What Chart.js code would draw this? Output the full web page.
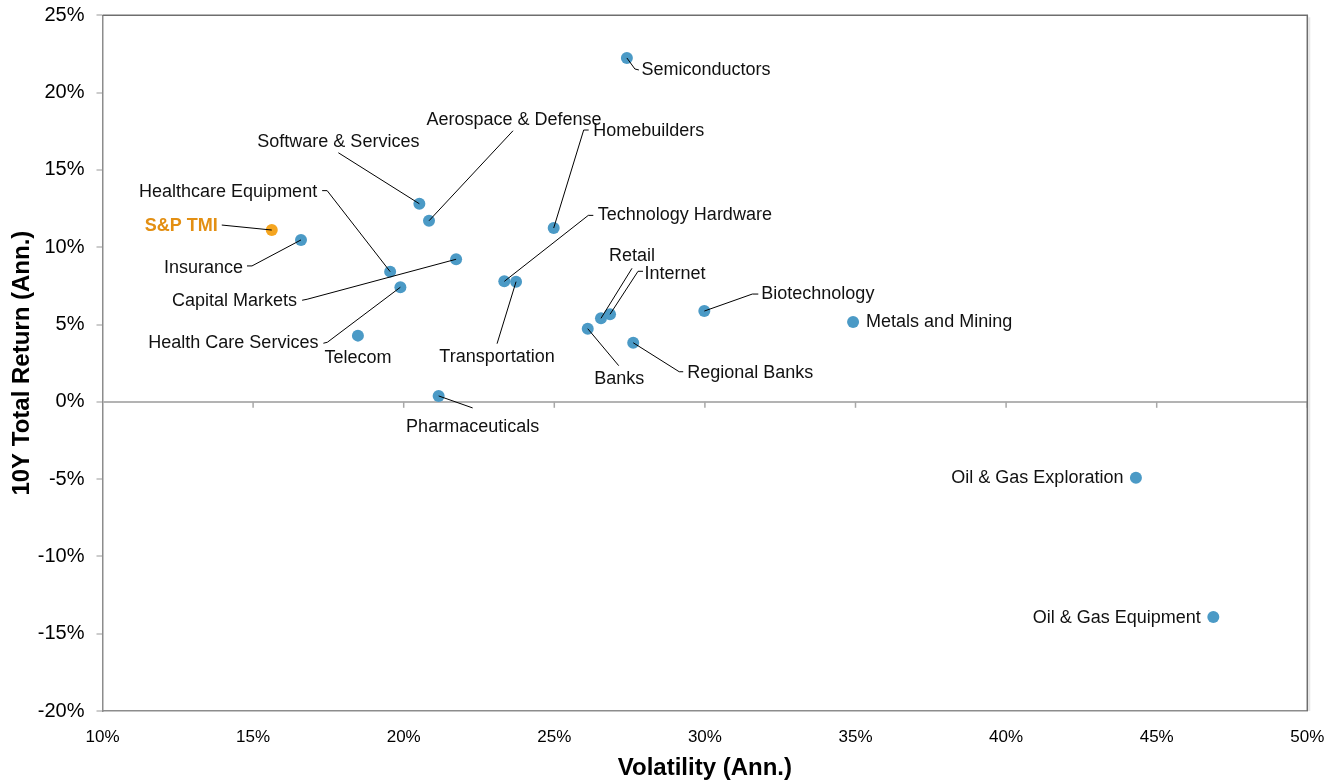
<!DOCTYPE html>
<html>
<head>
<meta charset="utf-8">
<script src="https://cdn.jsdelivr.net/npm/chart.js@4.4.1/dist/chart.umd.min.js"></script>
<style>
  html, body { margin: 0; padding: 0; background: #fff; }
  #wrap { width: 1339px; height: 781px; }
</style>
</head>
<body>
<div id="wrap"><canvas id="riskReturn"></canvas></div>
<script>
// Sector risk / return (values in %)
const sectors = [
  "Semiconductors", "Software & Services", "Aerospace & Defense", "Homebuilders",
  "Technology Hardware", "Healthcare Equipment", "Insurance", "Capital Markets",
  "Health Care Services", "Telecom", "Transportation", "Retail", "Internet",
  "Biotechnology", "Metals and Mining", "Banks", "Regional Banks", "Pharmaceuticals",
  "Oil & Gas Exploration", "Oil & Gas Equipment"
];
const volatility = [
  27.41, 20.52, 20.84, 24.98,
  23.34, 19.55, 16.59, 21.74,
  19.89, 18.48, 23.73, 26.55, 26.85,
  29.98, 34.92, 26.11, 27.62, 21.16,
  44.31, 46.88
];
const totalReturn = [
  22.24, 12.81, 11.71, 11.24,
  7.79, 8.42, 10.47, 9.22,
  7.41, 4.28, 7.77, 5.40, 5.66,
  5.87, 5.16, 4.73, 3.82, 0.38,
  -4.91, -13.92
];
const benchmark = ["S&P TMI"];
const benchmarkVol = [15.62];
const benchmarkRet = [11.11];

const xTicks = [10, 15, 20, 25, 30, 35, 40, 45, 50];
const yTicks = [-20, -15, -10, -5, 0, 5, 10, 15, 20, 25];

// label placement, pixel offsets from each point
const labelLayout = {
  "Semiconductors":        { dx: 14.5, dy: 12, align: "left", leader: [[8, 11], [12, 12]] },
  "Software & Services":   { dx: -81, dy: -62, align: "center", leader: [[-81, -51]] },
  "Aerospace & Defense":   { dx: 85, dy: -101, align: "center", leader: [[84, -90]] },
  "Homebuilders":          { dx: 39.5, dy: -97, align: "left", leader: [[30, -98], [35, -98]] },
  "Technology Hardware":   { dx: 93.5, dy: -66, align: "left", leader: [[84, -66], [89, -66]] },
  "Healthcare Equipment":  { dx: -73, dy: -80, align: "right", leader: [[-63, -81], [-68, -81]] },
  "Insurance":             { dx: -58, dy: 28, align: "right", leader: [[-49, 26], [-54, 26]] },
  "Capital Markets":       { dx: -159, dy: 41.5, align: "right", leader: [[-149, 40], [-154, 41]] },
  "Health Care Services":  { dx: -82, dy: 56, align: "right", leader: [[-73, 55], [-77, 56]] },
  "Telecom":               { dx: 0, dy: 22, align: "center" },
  "Transportation":        { dx: -19, dy: 75, align: "center", leader: [[-19, 62]] },
  "Retail":                { dx: 31, dy: -62, align: "center", leader: [[31, -50]] },
  "Internet":              { dx: 34.5, dy: -40, align: "left", leader: [[28, -43], [33, -43]] },
  "Biotechnology":         { dx: 57, dy: -17, align: "left", leader: [[48, -17], [54, -17]] },
  "Metals and Mining":     { dx: 13, dy: 0, align: "left" },
  "Banks":                 { dx: 31.5, dy: 50, align: "center", leader: [[31, 37]] },
  "Regional Banks":        { dx: 54, dy: 30, align: "left", leader: [[46, 29], [50, 29]] },
  "Pharmaceuticals":       { dx: 34, dy: 31, align: "center", leader: [[34, 12]] },
  "Oil & Gas Exploration": { dx: -12.5, dy: 0.5, align: "right" },
  "Oil & Gas Equipment":   { dx: -12.5, dy: 1, align: "right" },
  "S&P TMI":               { dx: -54, dy: -4, align: "right", leader: [[-50, -5]], bold: true }
};

const BLUE = "#4b9ac6";
const ORANGE = "#f5a51f";
const ORANGE_TEXT = "#e38f12";

Chart.defaults.font.family = "'Liberation Sans', Arial, sans-serif";
Chart.defaults.color = "#000";

const pointLabels = {
  id: "pointLabels",
  afterDatasetsDraw(chart) {
    const ctx = chart.ctx;
    ctx.save();
    chart.data.datasets.forEach((ds, i) => {
      const meta = chart.getDatasetMeta(i);
      meta.data.forEach((pt, j) => {
        const name = ds.names[j];
        const lay = labelLayout[name];
        if (!lay) return;
        if (lay.leader) {
          ctx.beginPath();
          ctx.strokeStyle = "#000";
          ctx.lineWidth = 1;
          ctx.moveTo(pt.x, pt.y);
          lay.leader.forEach(p => ctx.lineTo(pt.x + p[0], pt.y + p[1]));
          ctx.stroke();
        }
        ctx.font = (lay.bold ? "bold " : "") + "18px 'Liberation Sans', Arial, sans-serif";
        ctx.fillStyle = lay.bold ? ORANGE_TEXT : "#111";
        ctx.textAlign = lay.align;
        ctx.textBaseline = "middle";
        ctx.fillText(name, pt.x + lay.dx, pt.y + lay.dy);
      });
    });
    ctx.restore();
  }
};

// tick marks on the zero line plus the darker top/right frame
const frame = {
  id: "frame",
  beforeDatasetsDraw(chart) {
    const { ctx, scales: { x, y } } = chart;
    const y0 = y.getPixelForValue(0);
    ctx.save();
    ctx.strokeStyle = "#a8a8a8";
    ctx.lineWidth = 1.5;
    xTicks.slice(1).forEach(v => {
      const px = x.getPixelForValue(v);
      ctx.beginPath();
      ctx.moveTo(px, y0);
      ctx.lineTo(px, y0 + 6);
      ctx.stroke();
    });
    ctx.restore();
  },
  afterDraw(chart) {
    const { ctx, chartArea: a } = chart;
    ctx.save();
    ctx.strokeStyle = "#e6e6e6";
    ctx.lineWidth = 2;
    ctx.beginPath();
    ctx.moveTo(a.right + 2, a.top + 2);
    ctx.lineTo(a.right + 2, a.bottom);
    ctx.stroke();
    ctx.strokeStyle = "#6e6e6e";
    ctx.lineWidth = 1.5;
    ctx.beginPath();
    ctx.moveTo(a.left, a.top);
    ctx.lineTo(a.right, a.top);
    ctx.lineTo(a.right, a.bottom);
    ctx.stroke();
    ctx.restore();
  }
};

const noOverhang = s => {
  s.paddingTop = 0;
  s.paddingBottom = 0;
  s.paddingLeft = 0;
  s.paddingRight = 0;
};

new Chart(document.getElementById("riskReturn"), {
  type: "scatter",
  data: {
    datasets: [
      {
        label: "Sectors",
        names: sectors,
        data: sectors.map((s, i) => ({ x: volatility[i], y: totalReturn[i] })),
        backgroundColor: BLUE,
        borderWidth: 0,
        pointRadius: 6,
        pointHoverRadius: 6
      },
      {
        label: "Benchmark",
        names: benchmark,
        data: benchmark.map((s, i) => ({ x: benchmarkVol[i], y: benchmarkRet[i] })),
        backgroundColor: ORANGE,
        borderWidth: 0,
        pointRadius: 6,
        pointHoverRadius: 6
      }
    ]
  },
  options: {
    responsive: true,
    maintainAspectRatio: false,
    animation: false,
    layout: { padding: { top: 15.3, right: 31.7, bottom: 0, left: 0 } },
    plugins: {
      legend: { display: false },
      tooltip: { enabled: false }
    },
    scales: {
      x: {
        type: "linear",
        position: "bottom",
        min: 10,
        max: 50,
        afterBuildTicks: s => { s.ticks = xTicks.map(v => ({ value: v })); },
        afterFit: s => { s.height = 70; noOverhang(s); },
        grid: { display: false, drawTicks: false },
        border: { display: true, color: "#8c8c8c", width: 1.5 },
        ticks: {
          padding: 16,
          font: { size: 17 },
          color: "#000",
          callback: v => v + "%"
        },
        title: {
          display: true,
          text: "Volatility (Ann.)",
          font: { size: 24, weight: "bold", lineHeight: 1 },
          color: "#000",
          padding: { top: 0, bottom: 1 }
        }
      },
      y: {
        type: "linear",
        min: -20,
        max: 25,
        afterBuildTicks: s => { s.ticks = yTicks.map(v => ({ value: v })); },
        afterFit: s => { s.width = 102.5; noOverhang(s); },
        grid: {
          color: c => (c.tick && c.tick.value === 0 ? "#b3b3b3" : "rgba(0,0,0,0)"),
          lineWidth: 2,
          tickColor: "#999",
          tickWidth: 1,
          tickLength: 6
        },
        border: { display: true, color: "#8c8c8c", width: 1.5 },
        ticks: {
          padding: 12,
          font: { size: 20 },
          color: "#000",
          callback: v => v + "%"
        },
        title: {
          display: true,
          text: "10Y Total Return (Ann.)",
          font: { size: 24, weight: "bold" },
          color: "#000",
          padding: { top: 8, bottom: 0 }
        }
      }
    }
  },
  plugins: [frame, pointLabels]
});
</script>
</body>
</html>
